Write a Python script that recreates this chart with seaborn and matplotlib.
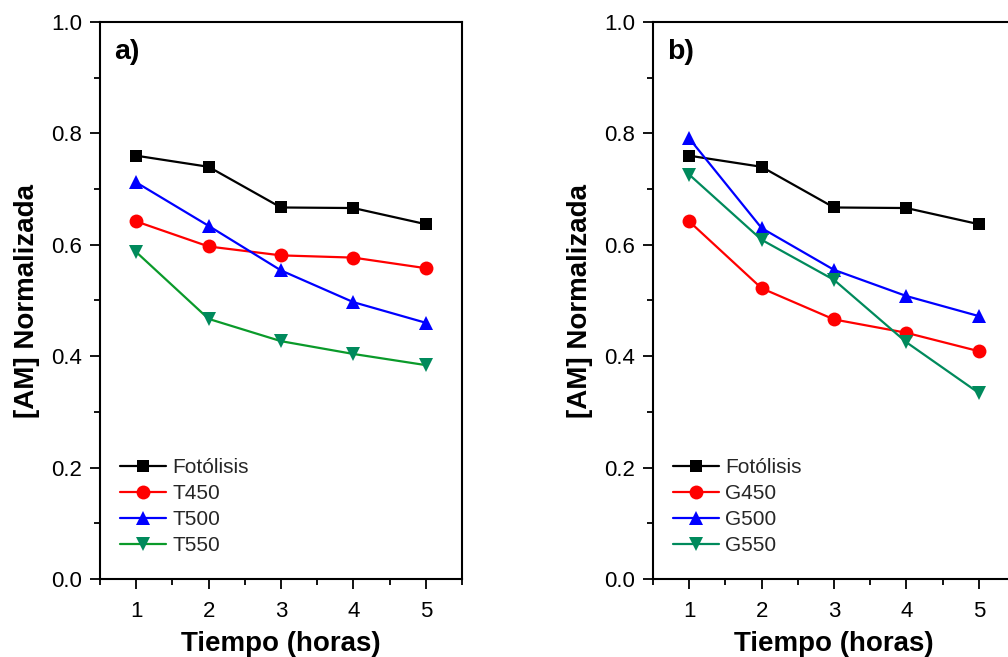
import matplotlib
matplotlib.use("Agg")
import matplotlib.pyplot as plt
from matplotlib.ticker import MultipleLocator
import seaborn as sns
import pandas as pd

sns.set_theme(style="ticks")
plt.rcParams['font.family'] = ['Liberation Sans', 'DejaVu Sans']

tiempo = [1, 2, 3, 4, 5]

# Panel a)
fotolisis = [0.760, 0.740, 0.667, 0.666, 0.637]
t450 = [0.642, 0.597, 0.581, 0.577, 0.558]
t500 = [0.712, 0.634, 0.554, 0.497, 0.460]
t550 = [0.587, 0.467, 0.427, 0.404, 0.384]

# Panel b)
g450 = [0.642, 0.522, 0.466, 0.442, 0.409]
g500 = [0.791, 0.630, 0.555, 0.508, 0.472]
g550 = [0.726, 0.609, 0.537, 0.425, 0.334]

labels_a = ["Fotólisis", "T450", "T500", "T550"]
labels_b = ["Fotólisis", "G450", "G500", "G550"]

series_a = [fotolisis, t450, t500, t550]
series_b = [fotolisis, g450, g500, g550]

line_colors_a = ["black", "#FF0000", "#0000FF", "#0A9A2A"]
line_colors_b = ["black", "#FF0000", "#0000FF", "#008A5C"]
marker_colors = ["black", "#FF0000", "#0000FF", "#008A5C"]
markers = ["s", "o", "^", "v"]
msizes = [9, 10, 10.5, 10.5]

W, H = 1008, 657
fig = plt.figure(figsize=(W / 100, H / 100), dpi=100)

ax_w = (462 - 100) / W
ax_h = (579 - 22) / H
ax_b = 1 - 579 / H
axes = [fig.add_axes([100 / W, ax_b, ax_w, ax_h]),
        fig.add_axes([653 / W, ax_b, ax_w, ax_h])]

panels = [("a)", series_a, labels_a, line_colors_a),
          ("b)", series_b, labels_b, line_colors_b)]

for ax, (tag, series, labels, lcols) in zip(axes, panels):
    for vals, lab, lc, mc, mk, ms in zip(series, labels, lcols, marker_colors, markers, msizes):
        df = pd.DataFrame({"t": tiempo, "v": vals})
        sns.lineplot(data=df, x="t", y="v", ax=ax, color=lc, linewidth=1.6,
                     marker=mk, markersize=ms, markerfacecolor=mc,
                     markeredgecolor=mc, markeredgewidth=0, label=lab)
    ax.set_xlim(0.5, 5.5)
    ax.set_ylim(0.0, 1.0)
    ax.xaxis.set_major_locator(MultipleLocator(1))
    ax.xaxis.set_minor_locator(MultipleLocator(0.5))
    ax.yaxis.set_major_locator(MultipleLocator(0.2))
    ax.yaxis.set_minor_locator(MultipleLocator(0.1))
    ax.set_yticks([0.0, 0.2, 0.4, 0.6, 0.8, 1.0])
    ax.set_yticklabels(["0.0", "0.2", "0.4", "0.6", "0.8", "1.0"])
    ax.tick_params(axis="both", which="major", direction="out", length=7, width=1.3,
                   labelsize=16, color="black", labelcolor="black", pad=6)
    ax.tick_params(axis="x", which="major", pad=9)
    ax.tick_params(axis="both", which="minor", direction="out", length=4, width=1.3,
                   color="black")
    for sp in ax.spines.values():
        sp.set_visible(True)
        sp.set_linewidth(1.5)
        sp.set_color("black")
    ax.set_xlabel("Tiempo (horas)", fontsize=20, fontweight="bold", color="black", labelpad=6)
    ax.set_ylabel("[AM] Normalizada", fontsize=20, fontweight="bold", color="black", labelpad=8)
    ax.text(0.04, 0.947, tag, transform=ax.transAxes, fontsize=20.5, fontweight="bold",
            va="center", ha="left", color="black")
    ax.legend(loc="upper left", bbox_to_anchor=(0.015, 0.243), frameon=False,
              fontsize=15, handlelength=2.2, handletextpad=0.3, labelspacing=0.33,
              borderaxespad=0.3)
    ax.set_facecolor("white")

fig.savefig("out.png", dpi=100, facecolor="white")
